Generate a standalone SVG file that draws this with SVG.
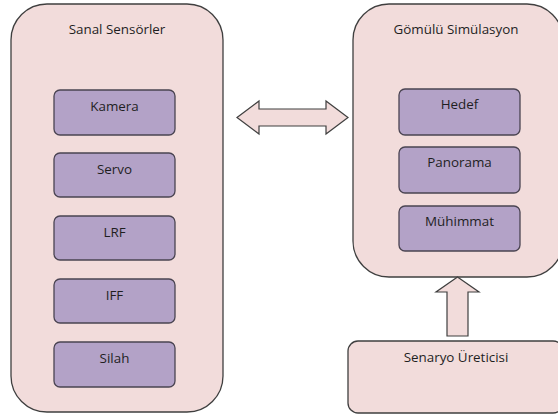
<svg xmlns="http://www.w3.org/2000/svg" width="558" height="414" viewBox="0 0 558 414">
  <style>
    .panel { fill: #f2dcdb; stroke: #3f3f3f; stroke-width: 1.3; }
    .item { fill: #b3a2c7; stroke: #4a4452; stroke-width: 1.3; }
    .arrow { fill: #f2dcdb; stroke: #3f3f3f; stroke-width: 1.2; stroke-linejoin: miter; }
    text { font-family: "Open Sans", "Liberation Sans", sans-serif; font-size: 13.4px; fill: #1f1f1f; text-anchor: middle; }
  </style>
  <rect width="558" height="414" fill="#ffffff"/>

  <g id="sanal-sensorler">
    <rect class="panel" x="11" y="4" width="212" height="408" rx="36" ry="36"/>
    <text x="117" y="34">Sanal Sensörler</text>
  </g>
  <g id="kamera">
    <rect class="item" x="54" y="90" width="121" height="45" rx="6"/>
    <text x="114.5" y="111">Kamera</text>
  </g>
  <g id="servo">
    <rect class="item" x="54" y="153" width="121" height="44" rx="6"/>
    <text x="114.5" y="174">Servo</text>
  </g>
  <g id="lrf">
    <rect class="item" x="54" y="216" width="121" height="44" rx="6"/>
    <text x="114.5" y="237">LRF</text>
  </g>
  <g id="iff">
    <rect class="item" x="54" y="279" width="121" height="44" rx="6"/>
    <text x="114.5" y="300">IFF</text>
  </g>
  <g id="silah">
    <rect class="item" x="54" y="342" width="121" height="45" rx="6"/>
    <text x="114.5" y="363">Silah</text>
  </g>

  <g id="gomulu-simulasyon">
    <rect class="panel" x="353" y="4" width="210" height="273" rx="36" ry="36"/>
    <text x="456" y="34">Gömülü Simülasyon</text>
  </g>
  <g id="hedef">
    <rect class="item" x="399" y="89" width="121" height="46" rx="6"/>
    <text x="459.5" y="109">Hedef</text>
  </g>
  <g id="panorama">
    <rect class="item" x="399" y="147" width="121" height="46" rx="6"/>
    <text x="459.5" y="167">Panorama</text>
  </g>
  <g id="muhimmat">
    <rect class="item" x="399" y="206" width="121" height="45" rx="6"/>
    <text x="459.5" y="226">Mühimmat</text>
  </g>

  <g id="senaryo-ureticisi">
    <rect class="panel" x="348" y="341" width="215" height="72" rx="10" ry="10"/>
    <text x="456" y="362">Senaryo Üreticisi</text>
  </g>

  <g id="connectors">
    <path class="arrow" d="M237,117.5 L259,101 L259,109 L326,109 L326,101 L348,117.5 L326,134 L326,126 L259,126 L259,134 Z"/>
    <path class="arrow" d="M457.5,277 L479,292 L468,292 L468,336 L447,336 L447,292 L436,292 Z"/>
  </g>
</svg>
